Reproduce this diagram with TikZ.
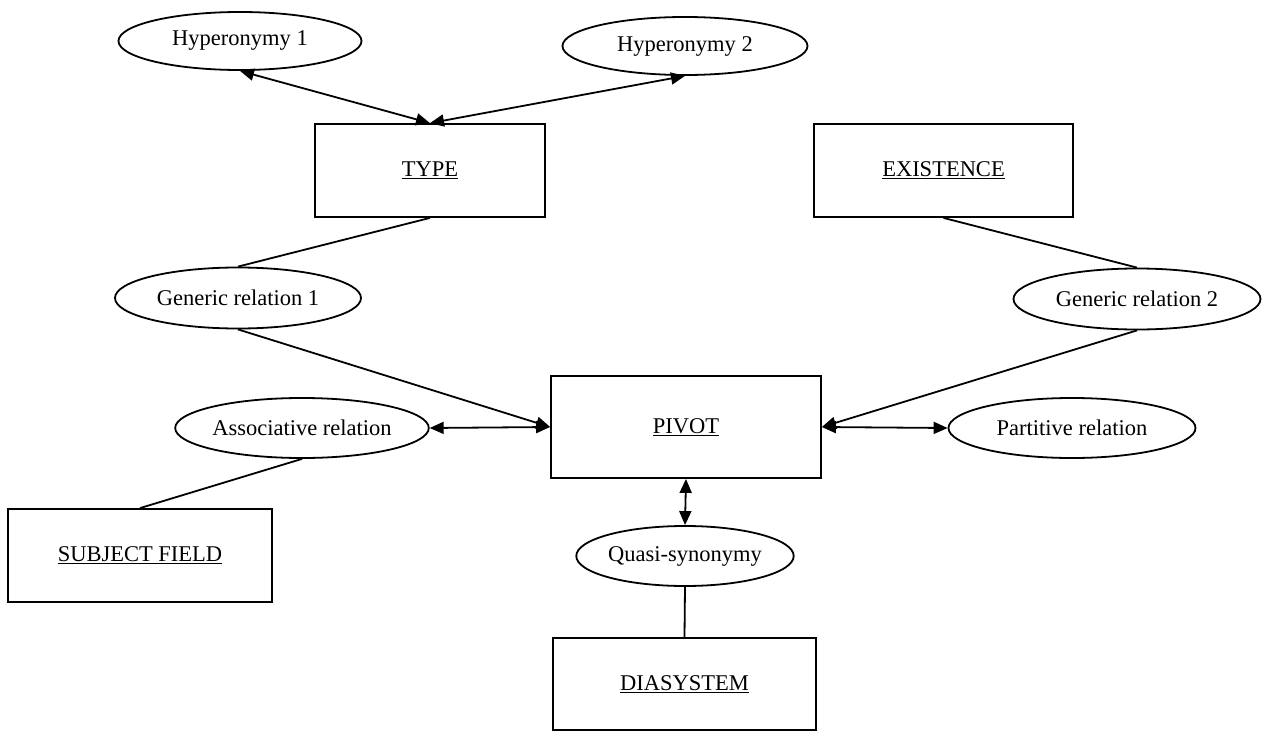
\documentclass[tikz,border=0pt]{standalone}
\usepackage{fontspec}
\setmainfont{Liberation Serif}
\usetikzlibrary{shapes.geometric,arrows.meta}
\tikzset{
  box/.style={draw,line width=1.8pt,rectangle,inner sep=0pt,font=\fontsize{22.5}{26}\selectfont},
  oval/.style={draw,line width=1.8pt,ellipse,inner sep=0pt,font=\fontsize{22.5}{26}\selectfont},
  conn/.style={line width=1.8pt},
  tip/.tip={Triangle[length=14pt,width=12pt]},
  both/.style={conn,tip-tip},
  one/.style={conn,-tip}
}
\newcommand{\ul}[1]{\underline{#1}}
\begin{document}
\begin{tikzpicture}[x=1pt,y=-1pt]
\useasboundingbox (0,0) rectangle (1262,736);
% ellipses
\node[oval,minimum width=243pt,minimum height=58pt] (hyp1) at (240,41) {Hyperonymy 1};
\node[oval,minimum width=245pt,minimum height=58pt] (hyp2) at (685,46) {Hyperonymy 2};
\node[oval,minimum width=246pt,minimum height=61pt] (gen1) at (238,298) {Generic relation 1};
\node[oval,minimum width=247pt,minimum height=61pt] (gen2) at (1137,299) {Generic relation 2};
\node[oval,minimum width=246pt,minimum height=60pt] (assoc) at (302,428) {Associative relation};
\node[oval,minimum width=247pt,minimum height=60pt] (part) at (1072,428) {Partitive relation};
\node[oval,minimum width=205pt,minimum height=60pt] (quasi) at (685,556) {Quasi-synonymy};
% boxes
\node[box,minimum width=230pt,minimum height=93pt] (type) at (430,170.5) {\ul{TYPE}};
\node[box,minimum width=259pt,minimum height=93pt] (exist) at (943.5,170.5) {\ul{EXISTENCE}};
\node[box,minimum width=270pt,minimum height=102pt] (pivot) at (686,427) {\ul{PIVOT}};
\node[box,minimum width=264pt,minimum height=93pt] (sf) at (140,555.5) {\ul{SUBJECT FIELD}};
\node[box,minimum width=263pt,minimum height=92pt] (dia) at (684.5,684) {\ul{DIASYSTEM}};
% connectors
\draw[both] (hyp1.south) -- (type.north);
\draw[both] (hyp2.south) -- (type.north);
\draw[conn] (type.south) -- (gen1.north);
\draw[one] (gen1.south) -- (pivot.west);
\draw[conn] (exist.south) -- (gen2.north);
\draw[one] (gen2.south) -- (pivot.east);
\draw[both] (assoc.east) -- (pivot.west);
\draw[both] (pivot.east) -- (part.west);
\draw[conn] (assoc.south) -- (sf.north);
\draw[both] (pivot.south) -- (quasi.north);
\draw[conn] (quasi.south) -- (dia.north);
\end{tikzpicture}
\end{document}
